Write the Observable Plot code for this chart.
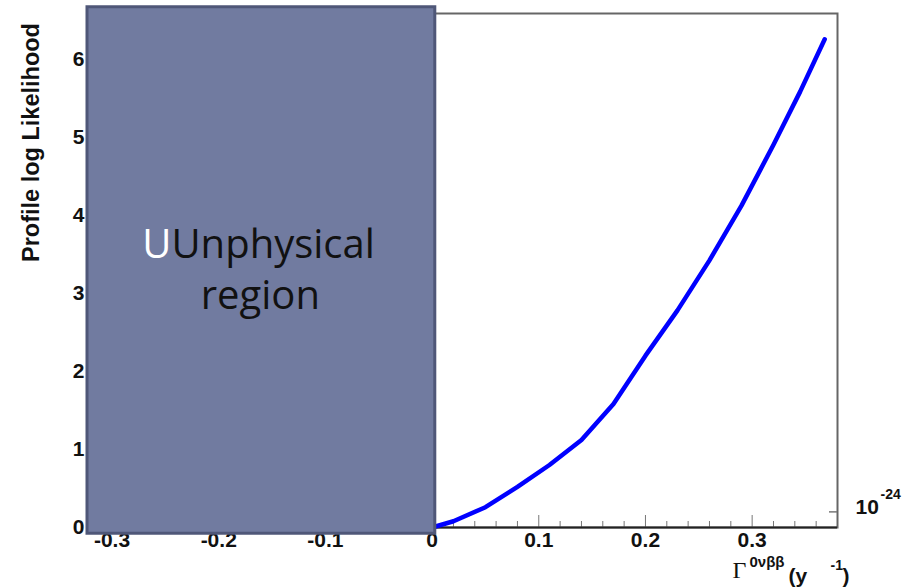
<!DOCTYPE html>
<html><head><meta charset="utf-8">
<script src="https://cdn.jsdelivr.net/npm/d3@7"></script>
<script src="https://cdn.jsdelivr.net/npm/@observablehq/plot@0.6"></script>
<style>body{margin:0;background:#fff}</style>
</head><body><div id="chart"></div>
<script>
// Data
const gammaRate   = [0, 0.02, 0.05, 0.08, 0.11, 0.14, 0.17, 0.20, 0.23, 0.26, 0.29, 0.32, 0.345, 0.368];
const profileLogL = [0, 0.08, 0.26, 0.52, 0.80, 1.12, 1.58, 2.20, 2.78, 3.42, 4.12, 4.90, 5.58, 6.25];
const xMajorTicks = [-0.3, -0.2, -0.1, 0, 0.1, 0.2, 0.3];
const xMinorTicks = [-0.32, -0.28, -0.26, -0.24, -0.22, -0.18, -0.16, -0.14, -0.12, -0.08, -0.06, -0.04, -0.02,
                     0.02, 0.04, 0.06, 0.08, 0.12, 0.14, 0.16, 0.18, 0.22, 0.24, 0.26, 0.28, 0.32, 0.34, 0.36];
const yTicks = [0, 1, 2, 3, 4, 5, 6];
const rightTicks = [0.2];
const unphysicalX = [-0.323, 0.003];
const unphysicalY = [-0.08, 6.66];
const regionWords = ["U", "Unphysical", "region"];
const yTitle = "Profile log Likelihood";
const xTitleParts = ["Γ", "0νββ", "(y", "-1", ")"];
const exponentParts = ["10", "-24"];

const curve = gammaRate.map((x, i) => ({x, y: profileLogL[i]}));
const region = [{x1: unphysicalX[0], x2: unphysicalX[1], y1: unphysicalY[0], y2: unphysicalY[1]}];
const sans = "'Liberation Sans', Arial, Helvetica, sans-serif";
const bold = {fontWeight: "bold", fill: "#111", fontFamily: sans};
const regionFont = {fontSize: 40, fontFamily: "'Open Sans', Lato, sans-serif"};

const chart = Plot.plot({
  width: 908, height: 588,
  marginLeft: 87, marginRight: 71, marginTop: 13, marginBottom: 61,
  x: {domain: [-0.323, 0.38]},
  y: {domain: [0, 6.58], axis: null},
  style: {fontFamily: sans, background: "white", overflow: "visible"},
  marks: [
    Plot.frame({stroke: "#666", strokeWidth: 2}),
    Plot.axisX({ticks: xMinorTicks, tickSize: -6, text: null, stroke: "#777", label: null}),
    Plot.axisX({ticks: xMajorTicks, tickSize: -12, text: null, stroke: "#777", label: null}),
    Plot.text(xMajorTicks, {x: d => d, text: d => String(d), frameAnchor: "bottom", dy: 19, textAnchor: "middle", fontSize: 21, ...bold}),
    Plot.text(yTicks, {y: d => d, text: d => String(d), frameAnchor: "left", dx: -3, textAnchor: "end", fontSize: 21, ...bold}),
    Plot.ruleY([0], {stroke: "#222", strokeWidth: 2}),
    Plot.ruleY(rightTicks, {y: d => d, x1: 0.3725, x2: 0.38, stroke: "#777", strokeWidth: 1.5}),
    Plot.line(curve, {x: "x", y: "y", stroke: "#0000ff", strokeWidth: 4.5, strokeLinecap: "round"}),
    Plot.rect(region, {x1: "x1", x2: "x2", y1: "y1", y2: "y2", fill: "#717ba0", stroke: "#4f5778", strokeWidth: 3, clip: false}),
    Plot.text([regionWords[0]], {text: d => d, x: -0.2443, y: 3.61, textAnchor: "end", fill: "#fff", ...regionFont}),
    Plot.text([regionWords[1]], {text: d => d, x: -0.2443, y: 3.61, textAnchor: "start", fill: "#111", ...regionFont}),
    Plot.text([regionWords[2]], {text: d => d, x: -0.161, y: 2.96, textAnchor: "middle", fill: "#111", ...regionFont}),
    Plot.text([yTitle], {text: d => d, frameAnchor: "top-left", dx: -65, dy: 129, rotate: -90, textAnchor: "middle", fontSize: 23.5, ...bold}),
    Plot.text([xTitleParts[0]], {text: d => d, frameAnchor: "bottom-right", dx: -105, dy: 50, textAnchor: "start", fontSize: 24, fill: "#111", fontFamily: "'Liberation Serif', 'DejaVu Serif', serif"}),
    Plot.text([xTitleParts[1]], {text: d => d, frameAnchor: "bottom-right", dx: -88, dy: 39, textAnchor: "start", fontSize: 15, ...bold}),
    Plot.text([xTitleParts[2]], {text: d => d, frameAnchor: "bottom-right", dx: -49, dy: 55, textAnchor: "start", fontSize: 21, ...bold}),
    Plot.text([xTitleParts[3]], {text: d => d, frameAnchor: "bottom-right", dx: -7, dy: 42, textAnchor: "start", fontSize: 14, ...bold}),
    Plot.text([xTitleParts[4]], {text: d => d, frameAnchor: "bottom-right", dx: 5, dy: 55, textAnchor: "start", fontSize: 21, ...bold}),
    Plot.text([exponentParts[0]], {text: d => d, frameAnchor: "bottom-right", dx: 18, dy: -14, textAnchor: "start", fontSize: 21, ...bold}),
    Plot.text([exponentParts[1]], {text: d => d, frameAnchor: "bottom-right", dx: 43, dy: -29, textAnchor: "start", fontSize: 14, ...bold})
  ]
});
document.getElementById("chart").appendChild(chart);
</script>
</body></html>
